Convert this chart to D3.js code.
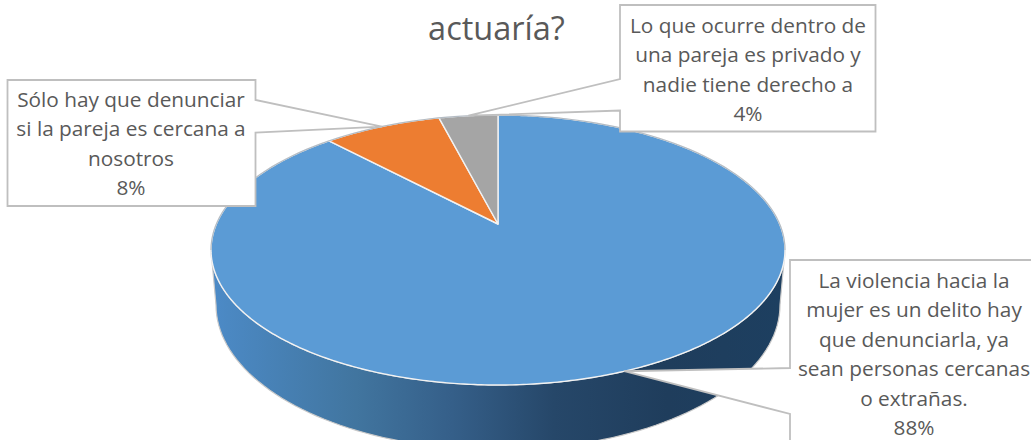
<!DOCTYPE html>
<html>
<head>
<meta charset="utf-8">
<script src="https://cdn.jsdelivr.net/npm/d3@7"></script>
<style>
  html, body { margin: 0; padding: 0; background: #fff; overflow: hidden; }
  text { font-family: "Open Sans", sans-serif; fill: #595959; }
</style>
</head>
<body>
<div id="chart"></div>
<script>
// data
var categories = ["violencia", "cercana", "privado"];
var values = [88, 8, 4];
var colors = ["#5b9bd5", "#ed7d31", "#a5a5a5"];
var titleLine = "actuaría?";
var labelLines = [
    ["La violencia hacia la", "mujer es un delito hay", "que denunciarla, ya", "sean personas cercanas", "o extrañas."],
    ["Sólo hay que denunciar", "si la pareja es cercana a", "nosotros"],
    ["Lo que ocurre dentro de", "una pareja es privado y", "nadie tiene derecho a"]
];

var width = 1031, height = 440;

var svg = d3.select("#chart").append("svg")
    .attr("width", width)
    .attr("height", height)
    .style("display", "block");

// the tilted pie is a circle seen in perspective, so the centre sits above the middle of the ellipse
var cx = 498, apexY = 224, persp = 0.1926, scaleX = 281.6, scaleY = 130;
function project(angle, r) {
    var u = r * Math.sin(angle), v = r * Math.cos(angle), w = 1 + persp * v;
    return [cx + scaleX * u / w, apexY - scaleY * v / w];
}

// closed path of a slice, angles from d3.pie
var line = d3.line();
function slicePath(d) {
    var steps = Math.ceil((d.endAngle - d.startAngle) / 0.01);
    var pts = d3.range(steps + 1).map(function(i) {
        return project(d.startAngle + (d.endAngle - d.startAngle) * i / steps, 1);
    });
    pts.unshift(project(0, 0));
    return line(pts) + "Z";
}

var pie = d3.pie().sort(null);
var slices = pie(values);

// side wall gradient
var defs = svg.append("defs");
var wallGrad = defs.append("linearGradient")
    .attr("id", "wall")
    .attr("gradientUnits", "userSpaceOnUse")
    .attr("x1", 215).attr("x2", 780).attr("y1", 0).attr("y2", 0);
wallGrad.selectAll("stop")
    .data([[0, "#4c8ac6"], [0.25, "#41759f"], [0.42, "#355f89"], [0.6, "#264769"], [0.8, "#1f3d5c"], [1, "#1d3f60"]])
    .enter().append("stop")
    .attr("offset", function(d) { return d[0]; })
    .attr("stop-color", function(d) { return d[1]; });

// wall = lower half of the top rim + lower half of the base ellipse
var rimX = 287, rimY = 135, rimCy = 250;
var baseX = 282, baseY = 145, baseCy = 305;
var wallPts = d3.range(0, 181, 2).map(function(a) {
    var t = a * Math.PI / 180;
    return [cx - rimX * Math.cos(t), rimCy + rimY * Math.sin(t)];
}).concat(d3.range(180, -1, -2).map(function(a) {
    var t = a * Math.PI / 180;
    return [cx - baseX * Math.cos(t), baseCy + baseY * Math.sin(t)];
}));
svg.append("path")
    .attr("d", line(wallPts) + "Z")
    .attr("fill", "url(#wall)")
    .attr("stroke", "#c9c9c9")
    .attr("stroke-width", 1.2);

// top face
svg.selectAll("path.slice")
    .data(slices)
    .enter().append("path")
    .attr("class", "slice")
    .attr("d", slicePath)
    .attr("fill", function(d, i) { return colors[i]; })
    .attr("stroke", "#f2f2f2")
    .attr("stroke-width", 1.4)
    .attr("stroke-linejoin", "round");

// grey edge on the far side of the rim
var farRim = d3.range(180, 361, 2).map(function(a) {
    var t = a * Math.PI / 180;
    return [cx - rimX * Math.cos(t), rimCy + rimY * Math.sin(t)];
});
svg.append("path")
    .attr("d", line(farRim))
    .attr("fill", "none")
    .attr("stroke", "#b4bcc4")
    .attr("stroke-width", 1.2);

// title, first line falls outside the picture
svg.append("text")
    .attr("x", 496.5)
    .attr("y", 40)
    .attr("text-anchor", "middle")
    .style("font-size", "32.5px")
    .text(titleLine);

// callouts: box edges, notch on one side, label centre and first baseline
var callouts = [
    { x0: 790, x1: 1045, y0: 260, y1: 470, side: "left", n0: 368, n1: 414, tx: 914, ty: 288 },
    { x0: 7.5, x1: 255.5, y0: 80, y1: 206, side: "right", n0: 100, n1: 132.5, tx: 131, ty: 107 },
    { x0: 620, x1: 875.5, y0: 5, y1: 131.5, side: "left", n0: 79, n1: 110.5, tx: 748, ty: 33 }
];

function calloutPath(c, i) {
    var d = slices[i];
    var tip = project((d.startAngle + d.endAngle) / 2, 1);
    var pts;
    if (c.side == "left") {
        pts = [[c.x0, c.y0], [c.x1, c.y0], [c.x1, c.y1], [c.x0, c.y1], [c.x0, c.n1], tip, [c.x0, c.n0]];
    } else {
        pts = [[c.x0, c.y0], [c.x1, c.y0], [c.x1, c.n0], tip, [c.x1, c.n1], [c.x1, c.y1], [c.x0, c.y1]];
    }
    return line(pts) + "Z";
}

var groups = svg.selectAll("g.callout")
    .data(callouts)
    .enter().append("g")
    .attr("class", "callout");

groups.append("path")
    .attr("d", calloutPath)
    .attr("fill", "#fff")
    .attr("stroke", "#bfbfbf")
    .attr("stroke-width", 1.8);

groups.each(function(c, i) {
    var lines = labelLines[i].concat(values[i] + "%");
    d3.select(this).selectAll("text")
        .data(lines)
        .enter().append("text")
        .attr("x", c.tx)
        .attr("y", function(d, j) { return c.ty + j * 29.4; })
        .attr("text-anchor", "middle")
        .style("font-size", "20.8px")
        .text(function(d) { return d; });
});
</script>
</body>
</html>
